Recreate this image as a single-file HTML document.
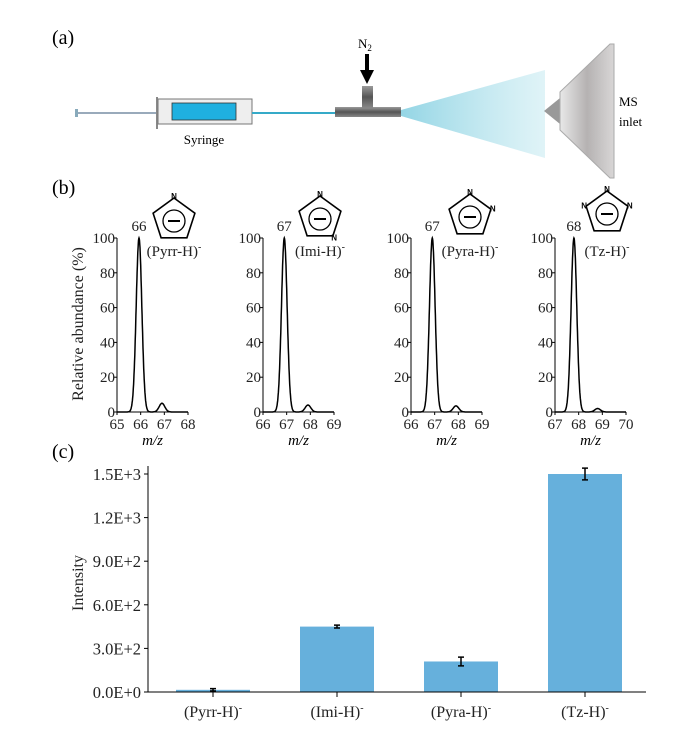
<!DOCTYPE html>
<html><head><meta charset="utf-8"><style>
body{margin:0;background:#fff}
svg{display:block;font-family:"Liberation Serif",serif}
</style></head><body>
<svg id="fig" width="700" height="737" viewBox="0 0 700 737">
<defs>
<linearGradient id="spray" x1="0" x2="1" y1="0" y2="0"><stop offset="0" stop-color="#3fb4d0" stop-opacity="0.8"/><stop offset="1" stop-color="#7fd0e0" stop-opacity="0.35"/></linearGradient>
<linearGradient id="metal" x1="0" x2="1"><stop offset="0" stop-color="#e8e8e8"/><stop offset="0.5" stop-color="#b5b2b2"/><stop offset="1" stop-color="#d8d6d6"/></linearGradient>
<linearGradient id="tube" x1="0" y1="0" x2="0" y2="1"><stop offset="0" stop-color="#9a9a9a"/><stop offset="0.5" stop-color="#555"/><stop offset="1" stop-color="#888"/></linearGradient>
</defs>
<g>
<text x="52" y="44" font-size="20">(a)</text>
<rect x="75" y="109" width="3" height="8" fill="#8ab"/>
<line x1="78" y1="113" x2="172" y2="113" stroke="#9ab" stroke-width="2"/>
<line x1="157" y1="97" x2="157" y2="129" stroke="#888" stroke-width="2"/>
<rect x="158" y="99" width="94" height="25" fill="#eee" stroke="#777"/>
<rect x="172" y="103" width="64" height="17" fill="#1fb0e0" stroke="#333" stroke-width="0.8"/>
<line x1="252" y1="113" x2="337" y2="113" stroke="#35aac8" stroke-width="2"/>
<rect x="335" y="107" width="66" height="10" fill="url(#tube)"/>
<rect x="362" y="86" width="11" height="22" fill="url(#tube)"/>
<text x="358" y="48" font-size="13">N<tspan font-size="9" dy="3">2</tspan></text>
<line x1="367" y1="54" x2="367" y2="72" stroke="#000" stroke-width="4"/>
<polygon points="360,70 374,70 367,84" fill="#000"/>
<polygon points="401,110 545,70 545,158 401,116" fill="url(#spray)" opacity="0.7"/>
<polygon points="544,111 560,98 560,124" fill="#999"/>
<polygon points="560,92 610,44 614,44 614,178 610,178 560,130" fill="url(#metal)" stroke="#aaa"/>
<text x="204" y="144" font-size="13" text-anchor="middle">Syringe</text>
<text x="619" y="106" font-size="13">MS</text>
<text x="619" y="126" font-size="13">inlet</text>
</g>
<text x="52" y="194" font-size="20">(b)</text>
<text transform="translate(83,324) rotate(-90)" font-size="16" text-anchor="middle" fill="#222">Relative abundance (%)</text>
<g id="spectra"></g>
<g id="barchart"></g>
</svg>
<script>
const NS="http://www.w3.org/2000/svg";
function mk(t,a,p){const e=document.createElementNS(NS,t);for(const k in a)e.setAttribute(k,a[k]);p.appendChild(e);return e;}
const specNames=["Pyrr","Imi","Pyra","Tz"];
const specXmin=[65,66,66,67];
const specXticks=[[65,66,67,68],[66,67,68,69],[66,67,68,69],[67,68,69,70]];
const peakMz=[[65.93,66.9],[66.9,67.9],[66.9,67.9],[67.8,68.8]];
const peakInt=[[100,5],[100,4],[100,3.5],[100,2]];
const peakLabels=["66","67","67","68"];
const nPos=[[[0,-1]],[[0,-1],[0.59,0.81]],[[0,-1],[0.95,-0.31]],[[0,-1],[0.95,-0.31],[-0.95,-0.31]]];
const yTicks=[0,20,40,60,80,100];
const axX=[117,263,411,555], wAx=71, yTop=238, yBot=412;
const iconX=[174,320,470,607], iconY=[220,218,216,213];
const sp=document.getElementById('spectra');
for(let i=0;i<4;i++){
  const g=mk('g',{},sp);
  
  
  const x0=axX[i];
  const xs=v=>x0+(v-specXmin[i])/3*wAx;
  const ys=v=>yBot-v/100*(yBot-yTop);
  const ax=mk('path',{d:`M${x0},${yTop} V${yBot} H${x0+wAx}`,stroke:'#000',fill:'none','stroke-width':1},g);
  
  
  yTicks.forEach(t=>{
    mk('line',{x1:x0-3,x2:x0,y1:ys(t),y2:ys(t),stroke:'#000'},g);
    const tx=mk('text',{x:x0-2,y:ys(t)+5,'font-size':15,'text-anchor':'end',fill:'#222'},g);
    tx.textContent=t;
    
    
  });
  specXticks[i].forEach(t=>{
    mk('line',{x1:xs(t),x2:xs(t),y1:yBot,y2:yBot+3,stroke:'#000'},g);
    const tx=mk('text',{x:xs(t),y:yBot+17,'font-size':15,'text-anchor':'middle',fill:'#222'},g);
    tx.textContent=t;
    
    
  });
  const mz=mk('text',{x:x0+wAx/2,y:yBot+33,'font-size':15,'text-anchor':'middle','font-style':'italic'},g);
  mz.textContent='m/z';
  
  
  let d='';
  for(let k=0;k<=300;k++){
    const v=specXmin[i]+k/100;
    let y=0;
    for(let p=0;p<peakMz[i].length;p++){const s=0.12;y+=peakInt[i][p]*Math.exp(-Math.pow(v-peakMz[i][p],2)/(2*s*s));}
    d+=(k?'L':'M')+xs(v).toFixed(1)+','+ys(y).toFixed(1);
  }
  const ln=mk('path',{d:d,stroke:'#000',fill:'none','stroke-width':1.5},g);
  
  
  const pl=mk('text',{x:xs(peakMz[i][0]),y:yTop-7,'font-size':15,'text-anchor':'middle',fill:'#222'},g);
  pl.textContent=peakLabels[i];
  
  
  const cx=iconX[i], cy=iconY[i], r=22;
  const mol=mk('g',{},g);
  
  
  let pts=[];for(let k=0;k<5;k++){const a=-Math.PI/2+k*2*Math.PI/5;pts.push((cx+r*Math.cos(a)).toFixed(1)+','+(cy+r*Math.sin(a)).toFixed(1));}
  mk('polygon',{points:pts.join(' '),fill:'#fff',stroke:'#000','stroke-width':1.6},mol);
  mk('circle',{cx:cx,cy:cy+1,r:11,fill:'none',stroke:'#000','stroke-width':1.3},mol);
  mk('line',{x1:cx-6,x2:cx+6,y1:cy+1,y2:cy+1,stroke:'#000','stroke-width':2},mol);
  nPos[i].forEach(p=>{const n=mk('text',{x:cx+p[0]*(r+2),y:cy+p[1]*(r+2)+3,'font-size':8,'font-family':'Liberation Sans','text-anchor':'middle','font-weight':'bold'},mol);n.textContent='N';});
  const nm=mk('text',{x:cx,y:256,'font-size':15,'text-anchor':'middle',fill:'#222'},g);
  nm.textContent='('+specNames[i]+'-H)';
  const sup=mk('tspan',{dy:-6,'font-size':10},nm);sup.textContent='-';
  
  
}
const barCats=["Pyrr","Imi","Pyra","Tz"];
const barValues=[15,450,210,1500];
const barErrors=[8,10,30,40];
const barTicks=[0,300,600,900,1200,1500];
const barTickLabels=["0.0E+0","3.0E+2","6.0E+2","9.0E+2","1.2E+3","1.5E+3"];
const bc=document.getElementById('barchart');
const bx0=148,bx1=646,by0=692,by1=474,band=124;
const xb=i=>213+i*band;
const yb=v=>by0-v/1500*(by0-by1);
const bw=74;
const lc=mk('text',{x:52,y:458,'font-size':20},bc);lc.textContent='(c)';


const yt=mk('text',{transform:'translate(83,583) rotate(-90)','font-size':16,'text-anchor':'middle',fill:'#222'},bc);
yt.textContent='Intensity';


barValues.forEach((v,i)=>{
  const r=mk('rect',{x:xb(i)-bw/2,y:yb(v),width:bw,height:by0-yb(v),fill:'#66b0dc'},bc);
  
  
  const e=barErrors[i],c=xb(i);
  const eb=mk('path',{d:`M${c},${yb(v+e)}V${yb(v-e)}M${c-3},${yb(v+e)}H${c+3}M${c-3},${yb(v-e)}H${c+3}`,stroke:'#000','stroke-width':1.5,fill:'none'},bc);
  
  
  mk('line',{x1:c,x2:c,y1:by0,y2:by0+5,stroke:'#000'},bc);
  const t=mk('text',{x:c,y:by0+25,'font-size':16,'text-anchor':'middle',fill:'#222'},bc);
  t.textContent='('+barCats[i]+'-H)';
  const s=mk('tspan',{dy:-6,'font-size':10},t);s.textContent='-';
  
  
});
const axp=mk('path',{d:`M${bx0},${by1-8}V${by0}H${bx1}`,stroke:'#000',fill:'none'},bc);


barTicks.forEach((t,i)=>{
  mk('line',{x1:bx0-4,x2:bx0,y1:yb(t),y2:yb(t),stroke:'#000'},bc);
  const tx=mk('text',{x:bx0-7,y:yb(t)+6,'font-size':16.5,'text-anchor':'end',fill:'#222'},bc);
  tx.textContent=barTickLabels[i];
  
  
});
</script>
</body></html>
